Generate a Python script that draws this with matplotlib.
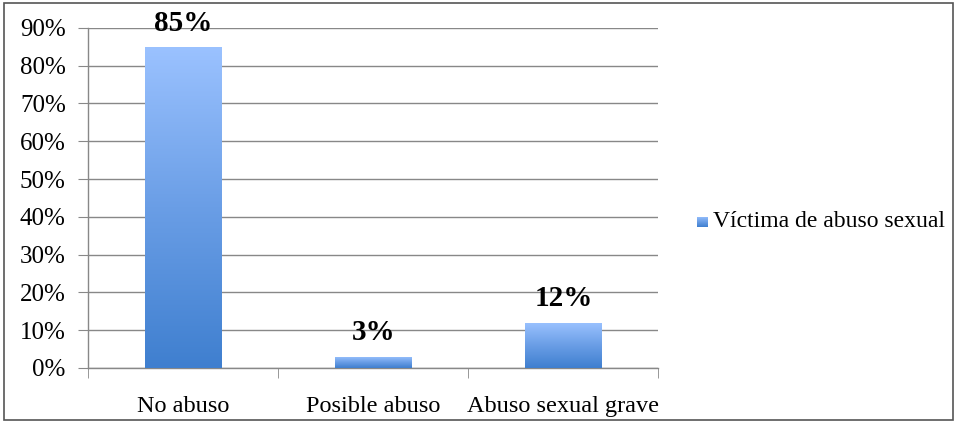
import numpy as np
import matplotlib
matplotlib.use("Agg")
import matplotlib.pyplot as plt
from matplotlib.colors import LinearSegmentedColormap
from matplotlib.patches import Rectangle

categories = ["No abuso", "Posible abuso", "Abuso sexual grave"]
values = [0.85, 0.03, 0.12]
labels = ["85%", "3%", "12%"]
series_name = "Víctima de abuso sexual"
yticks = [0, 0.1, 0.2, 0.3, 0.4, 0.5, 0.6, 0.7, 0.8, 0.9]

plt.rcParams['font.family'] = ['Liberation Serif', 'DejaVu Serif']

cmap = LinearSegmentedColormap.from_list("bluegrad", ["#3f7fcf", "#6a9ee6", "#9bc2ff"])
grad = np.linspace(0, 1, 256).reshape(-1, 1)

fig = plt.figure(figsize=(9.57, 4.22), dpi=100)
ax = fig.add_axes([0.092, 0.128, 0.596, 0.806])

x = np.arange(len(categories))
bars = ax.bar(x, values, width=0.4, color="none", edgecolor="none", zorder=3)
for b in bars:
    x0, y0 = b.get_x(), b.get_y()
    w, h = b.get_width(), b.get_height()
    im = ax.imshow(grad, cmap=cmap, aspect="auto", origin="lower",
                   extent=[x0, x0 + w, y0, y0 + h], zorder=3)
    im.set_clip_path(b)

for xi, v, lab in zip(x, values, labels):
    ax.text(xi, v + 0.027, lab, ha="center", va="bottom", fontsize=21,
            fontweight="bold", color="black", zorder=4, clip_on=False)

ax.set_xlim(-0.5, len(categories) - 0.5)
ax.set_ylim(0, 0.9)
ax.set_yticks(yticks)
ax.set_yticklabels([f"{int(round(t * 100))}%" for t in yticks], fontsize=18)
ax.set_xticks(x)
ax.set_xticklabels(categories, fontsize=17.5)
ax.set_xticks([-0.5, 0.5, 1.5, 2.5], minor=True)
ax.tick_params(axis="x", which="major", length=0, pad=20)
ax.tick_params(axis="x", which="minor", length=7, color="#888888", direction="out")
ax.tick_params(axis="y", length=7, color="#888888", direction="out", pad=9)
ax.yaxis.grid(True, color="#888888", linewidth=1)
ax.set_axisbelow(True)
for s in ["top", "right"]:
    ax.spines[s].set_visible(False)
for s in ["left", "bottom"]:
    ax.spines[s].set_color("#888888")
    ax.spines[s].set_linewidth(1)

# legend
lx, ly = 0.728, 0.474
sq = fig.add_axes([lx, ly - 0.013, 0.0105, 0.024])
sq.imshow(grad, cmap=cmap, aspect="auto", origin="lower")
sq.axis("off")
fig.text(lx + 0.017, ly, series_name, fontsize=17, va="center", ha="left")

fig.patches.append(Rectangle((0.004, 0.004), 0.992, 0.99, transform=fig.transFigure,
                             fill=False, edgecolor="#555555", linewidth=1.2))

fig.savefig("out.png", dpi=100)
